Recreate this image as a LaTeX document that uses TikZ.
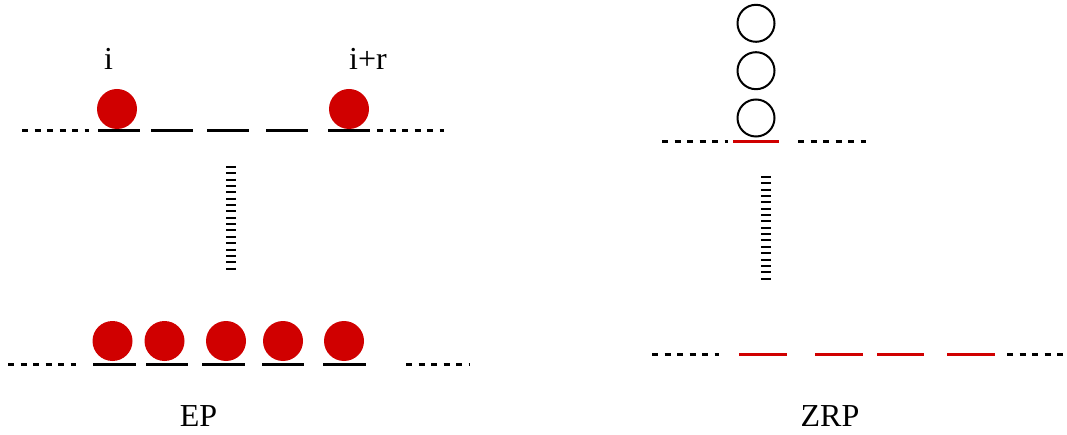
\documentclass[tikz,border=0pt]{standalone}
\usepackage{fontspec}
\setmainfont{Liberation Serif}
\definecolor{partred}{RGB}{208,0,0}
\begin{document}
\begin{tikzpicture}[x=1pt,y=-1pt,
  particle/.style={circle,fill=partred,inner sep=0pt,minimum size=40pt},
  hole/.style={circle,draw=black,line width=2pt,inner sep=0pt,minimum size=37pt},
  site/.style={line width=3pt},
  redsite/.style={line width=3pt,draw=partred},
  more/.style={line width=3pt,dash pattern=on 6pt off 6.5pt},
  ladder/.style={line width=10pt,dash pattern=on 2pt off 4.35pt},
  lbl/.style={inner sep=0pt,anchor=base,font=\fontsize{32}{38}\selectfont}]
\useasboundingbox (0,0) rectangle (1067,435);

% EP, upper configuration
\draw[more] (22,131) -- (89,131);
\draw[site] (98,131) -- (140,131);
\draw[site] (151,131) -- (193,131);
\draw[site] (207,131) -- (249,131);
\draw[site] (266,131) -- (308,131);
\draw[site] (328,131) -- (370,131);
\draw[more] (377,131) -- (444,131);
\node[particle] (p1) at (117,109) {};
\node[particle] (p2) at (349,109) {};
\node[lbl] (li) at (108.5,70) {i};
\node[lbl] (lir) at (368,70) {i+r};

% EP, time evolution
\draw[ladder] (231,166) -- (231,271);

% EP, lower configuration
\draw[more] (8,364) -- (76,364);
\draw[site] (93,364) -- (136,364);
\draw[site] (146,364) -- (188,364);
\draw[site] (202,364) -- (245,364);
\draw[site] (262,364) -- (304,364);
\draw[site] (323,364) -- (366,364);
\draw[more] (406,364) -- (470,364);
\node[particle] (q1) at (112.5,341) {};
\node[particle] (q2) at (164.5,341) {};
\node[particle] (q3) at (226,341) {};
\node[particle] (q4) at (283,341) {};
\node[particle] (q5) at (344,341) {};
\node[lbl] (ep) at (198.5,426) {EP};

% ZRP, upper configuration
\draw[more] (662,142) -- (728,142);
\draw[redsite] (733,142) -- (779,142);
\draw[more] (798,142) -- (866,142);
\node[hole] (h1) at (756,118) {};
\node[hole] (h2) at (756,70.7) {};
\node[hole] (h3) at (756,23.3) {};

% ZRP, time evolution
\draw[ladder] (766,176) -- (766,280);

% ZRP, lower configuration
\draw[more] (652,354.5) -- (719,354.5);
\draw[redsite] (739,354.5) -- (787,354.5);
\draw[redsite] (815,354.5) -- (863,354.5);
\draw[redsite] (877,354.5) -- (924,354.5);
\draw[redsite] (947,354.5) -- (995,354.5);
\draw[more] (1007,354.5) -- (1067,354.5);
\node[lbl] (zrp) at (830,426) {ZRP};
\end{tikzpicture}
\end{document}
